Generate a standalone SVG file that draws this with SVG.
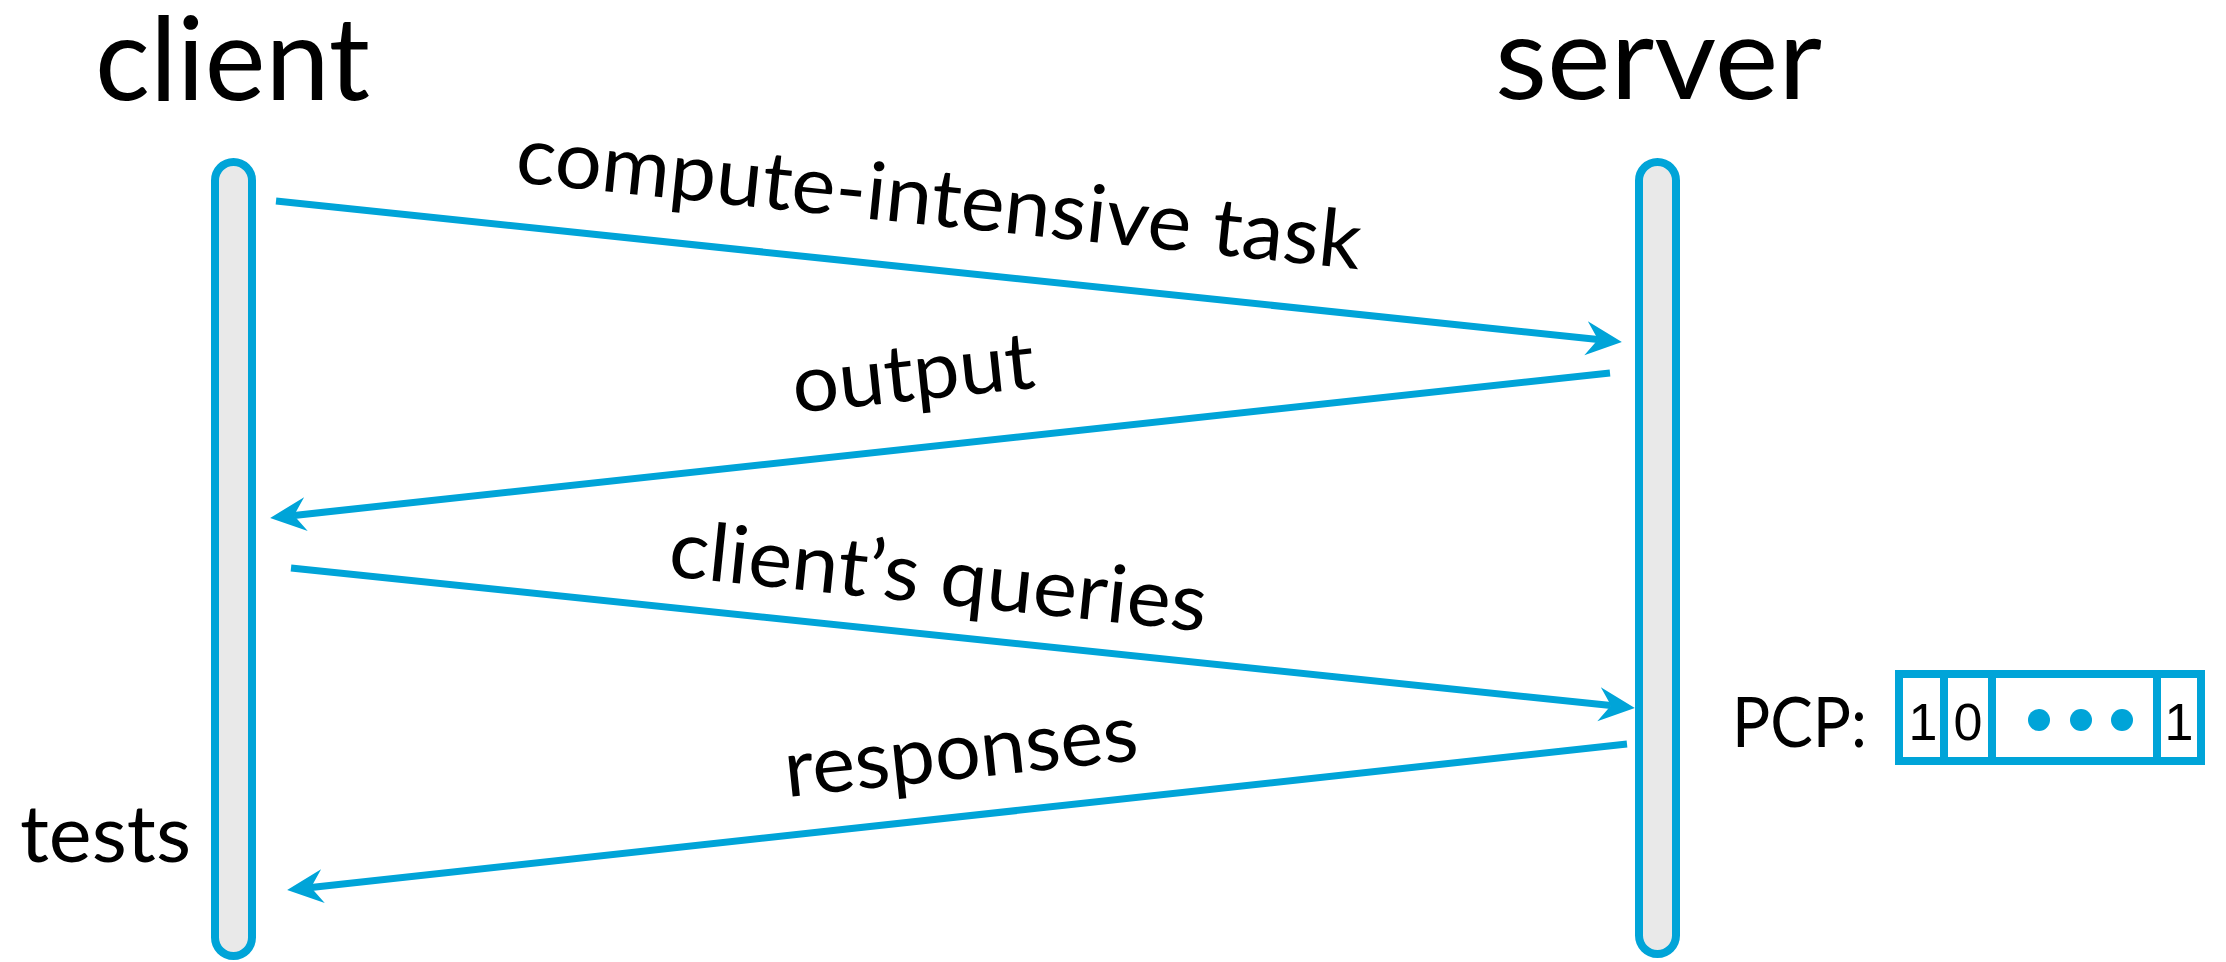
<svg xmlns="http://www.w3.org/2000/svg" width="2226" height="962" viewBox="0 0 2226 962">
<style>
.bar{fill:#E9E9E9;stroke:#00A4D8;stroke-width:8}
.conn{stroke:#00A4D8;stroke-width:7;fill:none;marker-end:url(#ah)}
.t{font-family:Lato,"Open Sans","DejaVu Sans",sans-serif;fill:#000}
.title{font-size:116px}
.lbl{font-size:80px}
.dig{font-family:"Liberation Sans",Arial,sans-serif;font-size:52px;fill:#000;text-anchor:middle}
.box{fill:#fff;stroke:#00A4D8;stroke-width:8}
.dot{fill:#00A4D8}
</style>
<defs>
<marker id="ah" markerUnits="userSpaceOnUse" viewBox="0 -18 37 36" markerWidth="37" markerHeight="36" refX="12" refY="0" orient="auto">
<path d="M36,0 L0,-17 L12,0 L0,17 Z" fill="#00A4D8"/>
</marker>
</defs>
<g id="client">
<rect class="bar" x="215" y="162" width="37" height="794" rx="18.5"/>
<text class="t title" x="95" y="100" textLength="275" lengthAdjust="spacingAndGlyphs">client</text>
<text class="t lbl" x="20" y="862" textLength="171" lengthAdjust="spacingAndGlyphs">tests</text>
</g>
<g id="server">
<rect class="bar" x="1639" y="162" width="37" height="792" rx="18.5"/>
<text class="t title" x="1495" y="99" textLength="327" lengthAdjust="spacingAndGlyphs">server</text>
</g>
<g id="pcp">
<text class="t" style="font-size:70px" x="1732" y="747" textLength="135" lengthAdjust="spacingAndGlyphs">PCP:</text>
<rect class="box" x="1899" y="674" width="302" height="87"/>
<line x1="1944" y1="674" x2="1944" y2="761" stroke="#00A4D8" stroke-width="8"/>
<line x1="1992" y1="674" x2="1992" y2="761" stroke="#00A4D8" stroke-width="8"/>
<line x1="2157" y1="674" x2="2157" y2="761" stroke="#00A4D8" stroke-width="8"/>
<text class="dig" x="1923" y="740">1</text>
<text class="dig" x="1968" y="740">0</text>
<text class="dig" x="2179" y="740">1</text>
<circle class="dot" cx="2039" cy="720" r="11"/>
<circle class="dot" cx="2081" cy="720" r="11"/>
<circle class="dot" cx="2122" cy="720" r="11"/>
</g>
<g id="connectors">
<line class="conn" x1="276" y1="201" x2="1598" y2="339.5"/>
<line class="conn" x1="1610" y1="373" x2="294" y2="515.4"/>
<line class="conn" x1="291" y1="568" x2="1611" y2="705.5"/>
<line class="conn" x1="1627" y1="744" x2="311" y2="887.4"/>
</g>
<g id="labels">
<text class="t lbl" transform="translate(514,182) rotate(5.9)" textLength="849" lengthAdjust="spacingAndGlyphs">compute-intensive task</text>
<text class="t lbl" transform="translate(795,413) rotate(-6)" textLength="243" lengthAdjust="spacingAndGlyphs">output</text>
<text class="t lbl" transform="translate(667,576) rotate(5.9)" textLength="540" lengthAdjust="spacingAndGlyphs">client’s queries</text>
<text class="t lbl" transform="translate(787,797) rotate(-6)" textLength="355" lengthAdjust="spacingAndGlyphs">responses</text>
</g>
</svg>
